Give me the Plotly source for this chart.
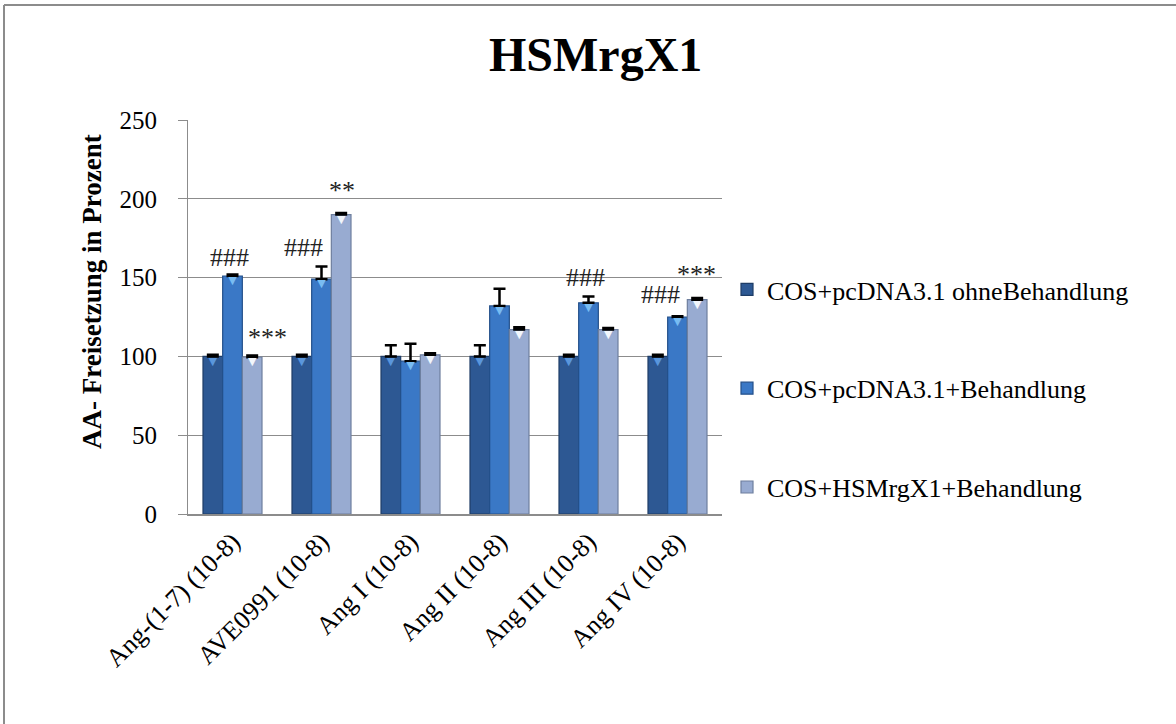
import plotly.graph_objects as go

categories = ["Ang-(1-7) (10-8)", "AVE0991 (10-8)", "Ang I (10-8)",
              "Ang II (10-8)", "Ang III (10-8)", "Ang IV (10-8)"]
series_names = ["COS+pcDNA3.1 ohneBehandlung", "COS+pcDNA3.1+Behandlung",
                "COS+HSMrgX1+Behandlung"]
ctrl = [100, 100, 100, 100, 100, 100]
ctrl_err = [1, 1, 7, 7, 1, 1]
treat = [151, 149, 97, 132, 134, 125]
treat_err = [1, 8, 11, 11, 4, 0.5]
mrg = [99.5, 190, 101, 117, 117, 136]
mrg_err = [1, 1, 1, 1.5, 1, 1]

# significance marks: (category, text, pixel shift, y value)
marks_cat = ["Ang-(1-7) (10-8)", "Ang-(1-7) (10-8)", "AVE0991 (10-8)",
             "AVE0991 (10-8)", "Ang III (10-8)", "Ang IV (10-8)", "Ang IV (10-8)"]
marks_text = ["###", "***", "###", "**", "###", "###", "***"]
marks_y = [163, 112, 169, 205, 150, 139, 152]
marks_shift = [-3, 35, -18, 20, -3, -17, 19]

colors = ["#2D5893", "#3A78C6", "#98ABD1"]
edges = ["#1E3C66", "#24508A", "#6E7F9E"]
tops = ["#5A96DC", "#78BCF2", "#F2F6FC"]
serif = "Liberation Serif, Times New Roman, serif"

fig = go.Figure()
for i, (name, vals, errs, c, e) in enumerate(zip(series_names, [ctrl, treat, mrg],
                                  [ctrl_err, treat_err, mrg_err], colors, edges)):
    fig.add_trace(go.Bar(
        x=categories, y=vals, name=name, legendgroup=name, offsetgroup=str(i),
        marker=dict(color=c, line=dict(color=e, width=1.2)),
        error_y=dict(type="data", array=errs, arrayminus=[0] * len(errs),
                     symmetric=False, color="black", thickness=2.5, width=6),
    ))
# light bevel highlight just under each bar top
for i, (name, vals, tp) in enumerate(zip(series_names, [ctrl, treat, mrg], tops)):
    fig.add_trace(go.Scatter(
        x=categories, y=vals, mode="text", offsetgroup=str(i),
        text=["▼"] * len(vals), textposition="bottom center",
        textfont=dict(family="DejaVu Sans", size=11, color=tp),
        legendgroup=name, showlegend=False, hoverinfo="skip",
    ))

for cat, t, s, yv in zip(marks_cat, marks_text, marks_shift, marks_y):
    fig.add_annotation(x=cat, y=yv, text=t, xshift=s, showarrow=False,
                       font=dict(family=serif, size=26, color="#222"),
                       yanchor="middle", xanchor="center")

# y axis title
fig.add_annotation(xref="paper", yref="paper", x=(92 - 188) / 534, y=(514 - 292) / 394,
                   text="<b>AA- Freisetzung in Prozent</b>", textangle=-90,
                   showarrow=False, font=dict(family=serif, size=27, color="black"),
                   xanchor="center", yanchor="middle")
# chart title
fig.add_annotation(xref="paper", yref="paper", x=(595 - 188) / 534, y=(514 - 55) / 394,
                   text="<b>HSMrgX1</b>", showarrow=False,
                   font=dict(family=serif, size=48, color="black"),
                   xanchor="center", yanchor="middle")

# outer border (top and left)
fig.add_shape(type="line", xref="paper", yref="paper",
              x0=(4 - 188) / 534, x1=(1180 - 188) / 534,
              y0=(514 - 5) / 394, y1=(514 - 5) / 394,
              line=dict(color="#8C8C8C", width=2))
fig.add_shape(type="line", xref="paper", yref="paper",
              x0=(4 - 188) / 534, x1=(4 - 188) / 534,
              y0=(514 - 5) / 394, y1=(514 - 730) / 394,
              line=dict(color="#8C8C8C", width=2))

fig.update_layout(
    width=1176, height=724,
    margin=dict(l=188, r=454, t=120, b=210),
    paper_bgcolor="white", plot_bgcolor="white",
    barmode="group", bargap=0.337, bargroupgap=0,
    scattermode="group", scattergap=0.337,
    showlegend=True,
    legend=dict(x=(727 - 188) / 534, y=(514 - 266) / 394, xanchor="left", yanchor="top",
                font=dict(family=serif, size=26, color="black"),
                tracegroupgap=62, itemwidth=30, bgcolor="rgba(0,0,0,0)"),
    font=dict(family=serif, color="black"),
)
fig.update_xaxes(
    tickangle=-45, tickfont=dict(family=serif, size=26, color="black"),
    showline=True, linecolor="#8C8C8C", linewidth=2, ticks="", showgrid=False,
)
fig.update_yaxes(
    range=[0, 250], dtick=50, tickfont=dict(family=serif, size=25, color="black"),
    showgrid=True, gridcolor="#8C8C8C", gridwidth=1,
    showline=True, linecolor="#8C8C8C", linewidth=1,
    ticks="outside", ticklen=9, tickcolor="#8C8C8C", ticklabelstandoff=16,
    zeroline=False,
)

fig.write_html("out.html", config={"displayModeBar": False},
               post_script="document.body.style.margin='0';document.body.style.overflow='hidden';")
